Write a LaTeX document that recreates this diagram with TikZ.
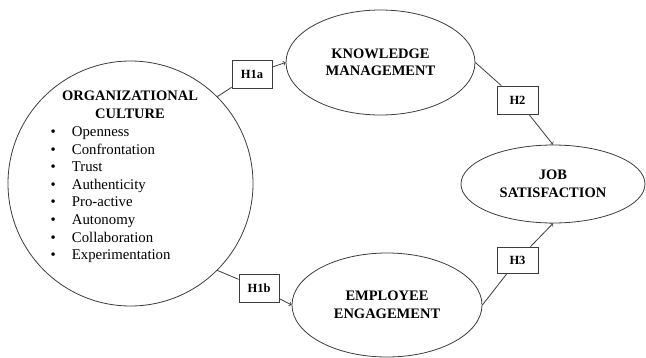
\documentclass[tikz,border=0pt]{standalone}
\usepackage{fontspec}
\setmainfont{Liberation Serif}
\usepackage{array}
\usetikzlibrary{arrows}
\usetikzlibrary{shapes.geometric,positioning}
\definecolor{linegray}{HTML}{3C3C3C}
\tikzset{construct/.style={draw=linegray, line width=0.8pt, ellipse, inner sep=0pt, align=center, font=\bfseries\fontsize{14.5}{17.5}\selectfont}, hypo box/.style={draw=linegray, line width=0.8pt, rectangle, inner sep=0pt, minimum width=40, minimum height=28, font=\bfseries\fontsize{12.5}{14}\selectfont}, link/.style={draw=linegray, line width=0.8pt}}

\begin{document}
\begin{tikzpicture}[x=1pt,y=-1pt]%[scale=0.75]
\useasboundingbox (0,0) rectangle (646,357);
\node[draw=linegray, line width=0.8pt, circle, inner sep=0pt, minimum size=245] (oc) at (130.5,183.5) {};
\node[align=center, inner sep=0pt, anchor=north, font=\bfseries\fontsize{14.5}{17.6}\selectfont] (octitle) at (130,91) {ORGANIZATIONAL\\CULTURE};
\node[inner sep=0pt, anchor=north west, font=\fontsize{14.8}{17.6}\selectfont] (oclist) at (50.5,124)
{\begin{tabular}{@{}l@{\hspace{16pt}}l@{}}
\textbullet & Openness\\
\textbullet & Confrontation\\
\textbullet & Trust\\
\textbullet & Authenticity\\
\textbullet & Pro-active\\
\textbullet & Autonomy\\
\textbullet & Collaboration\\
\textbullet & Experimentation
\end{tabular}};
\node[construct, minimum width=189, minimum height=105] (km) at (380.5,62.5) {KNOWLEDGE\\MANAGEMENT};
\node[construct, minimum width=190, minimum height=104] (ee) at (387,305) {EMPLOYEE\\ENGAGEMENT};
\node[construct, minimum width=184, minimum height=78] (js) at (553,184) {JOB\\SATISFACTION};
\node[hypo box] (h1a) at (252,74) {H1a};
\node[hypo box] (h1b) at (259,288) {H1b};
\node[hypo box, minimum width=41] (h2) at (517.5,100) {H2};
\node[hypo box, minimum width=41, minimum height=26] (h3) at (517.5,260) {H3};
%paths
\draw[link] (oc.45) -- (h1a);
\draw[link,->] (h1a) -- (km.west);
\draw[link] (oc.-45) -- (h1b);
\draw[link,->] (h1b) -- (ee.west);
\draw[link] (km.east) -- (h2);
\draw[link,->] (h2) -- (js.north);
\draw[link] (ee.east) -- (h3);
\draw[link,->] (h3) -- (js.south);
\end{tikzpicture}
\end{document}
